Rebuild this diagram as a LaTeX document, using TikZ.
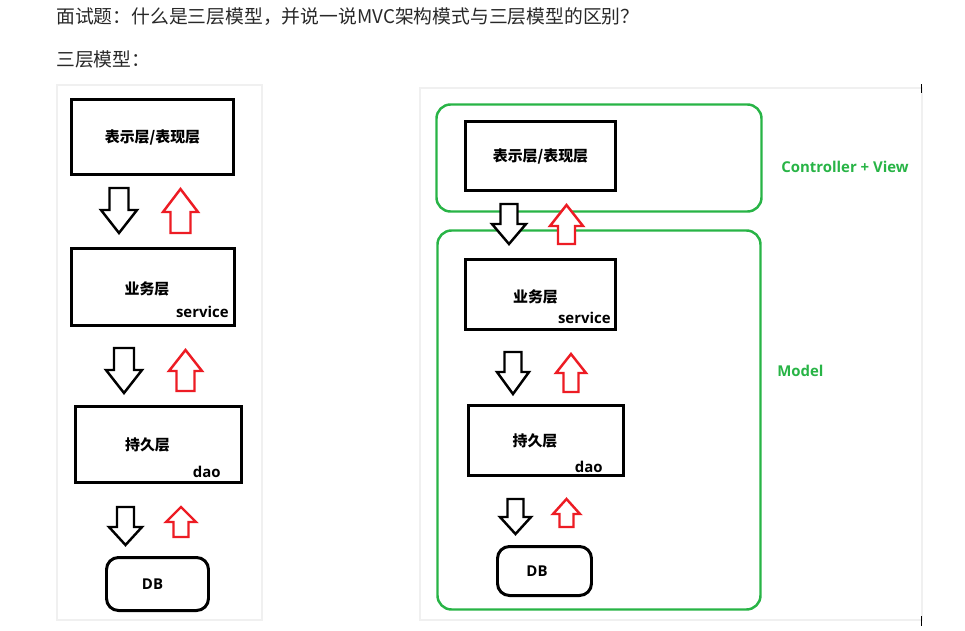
\documentclass[tikz,border=0pt]{standalone}
\usepackage{fontspec}
\usetikzlibrary{positioning, calc}
\newfontfamily\cjk{Noto Sans CJK SC}
\newfontfamily\lat{Open Sans}
\definecolor{mgreen}{RGB}{40,180,70}
\definecolor{mred}{RGB}{237,28,36}
\definecolor{ttext}{RGB}{40,40,40}

% block arrow: style, x, tail y, neck y, tip y, shaft half, head half
\newcommand\blockarr[7]{\draw[#1] ({#2-#6},#3) -- ({#2+#6},#3) -- ({#2+#6},#4) -- ({#2+#7},#4) -- (#2,#5) -- ({#2-#7},#4) -- ({#2-#6},#4) -- cycle;}

\begin{document}
\begin{tikzpicture}[x=0.02cm,y=-0.02cm,line join=miter,
    layer/.style={draw, line width=1.7pt, inner sep=0pt, font=\cjk\bfseries\fontsize{8.5pt}{10pt}\selectfont},
    ltext/.style={inner sep=0pt, font=\cjk\bfseries\fontsize{8.5pt}{10pt}\selectfont},
    dbbox/.style={layer, rounded corners=0.24cm, font=\lat\bfseries\fontsize{8.5pt}{10pt}\selectfont},
    sub/.style={inner sep=0pt, font=\lat\bfseries\fontsize{8.5pt}{10pt}\selectfont},
    group/.style={draw=mgreen, line width=1.4pt, rounded corners=0.28cm},
    glabel/.style={anchor=west, inner sep=0pt, text=mgreen, font=\lat\bfseries\fontsize{8.5pt}{10pt}\selectfont},
    down/.style={draw=black, line width=1.4pt, fill=white},
    up/.style={draw=mred, line width=1.4pt, fill=white},
    panel/.style={draw=black!6, fill=white, line width=0.8pt}]
    \useasboundingbox (0,0) rectangle (965,630);

    % heading
    \node[anchor=west, inner sep=0pt, text=ttext, font=\cjk\fontsize{10.7pt}{12pt}\selectfont] (title) at (56,17) {面试题：什么是三层模型，并说一说MVC架构模式与三层模型的区别？};
    \node[anchor=west, inner sep=0pt, text=ttext, font=\cjk\fontsize{10.7pt}{12pt}\selectfont] (sub) at (56,59) {三层模型：};

    % panels
    \draw[panel] (57,85) rectangle (262,620);
    \draw[panel] (420,88) rectangle (922,620);
    \draw[line width=0.6pt] (921.5,84) -- (921.5,93);
    \draw[line width=0.6pt] (921.5,616) -- (921.5,626);

    %three layers
    \node[layer, minimum width=162*0.02cm, minimum height=75*0.02cm] (lview) at (152.5,137) {表示层/表现层};
    \node[layer, minimum width=163*0.02cm, minimum height=77*0.02cm] (lserv) at (153,287) {};
    \node[ltext] at ($(lserv.center)+(-6,2)$) {业务层};
    \node[sub, anchor=south east] (lservt) at ($(lserv.south east)+(-7,-9)$) {service};
    \node[layer, minimum width=166*0.02cm, minimum height=76*0.02cm] (ldao) at (158.5,444.5) {};
    \node[ltext] at ($(ldao.center)+(-11,0)$) {持久层};
    \node[sub, anchor=south east] (ldaot) at ($(ldao.south east)+(-22,-6)$) {dao};
    \node[dbbox, minimum width=102*0.02cm, minimum height=53*0.02cm] (ldb) at (157.5,584) {\hspace*{-0.2cm}DB};

    %arrows left
    \blockarr{down}{119}{188}{210}{233}{9.5}{18}
    \blockarr{up}{180.5}{233}{212}{189}{10}{17.5}
    \blockarr{down}{124}{348}{370}{393}{10}{18}
    \blockarr{up}{185.5}{391}{371}{350}{9}{16.5}
    \blockarr{down}{125.5}{507}{527}{545}{8.5}{16.5}
    \blockarr{up}{181}{537}{522}{507}{7.5}{15}

    %mvc groups
    \node[group, minimum width=325*0.02cm, minimum height=107*0.02cm] (cv) at (599,158) {};
    \node[group, minimum width=323*0.02cm, minimum height=379*0.02cm] (model) at (599,420) {};
    \node[glabel] (cvt) at (781,167) {Controller + View};
    \node[glabel] (modelt) at (777,371) {Model};

    %layers inside
    \node[layer, minimum width=150*0.02cm, minimum height=69*0.02cm] (rview) at (540.5,156) {表示层/表现层};
    \node[layer, minimum width=150*0.02cm, minimum height=70*0.02cm] (rserv) at (540.5,294.5) {};
    \node[ltext] at ($(rserv.center)+(-5,2)$) {业务层};
    \node[sub, anchor=south east] (rservt) at ($(rserv.south east)+(-6,-7)$) {service};
    \node[layer, minimum width=155*0.02cm, minimum height=70*0.02cm] (rdao) at (546,440.5) {};
    \node[ltext] at ($(rdao.center)+(-11,0)$) {持久层};
    \node[sub, anchor=south east] (rdaot) at ($(rdao.south east)+(-22,-4)$) {dao};
    \node[dbbox, minimum width=94*0.02cm, minimum height=49*0.02cm] (rdb) at (544.5,571) {\hspace*{-0.3cm}DB};

    %arrows right
    \blockarr{down}{509}{204}{224}{244}{8.5}{17}
    \blockarr{up}{566.5}{244}{226}{205}{8.5}{16.5}
    \blockarr{down}{513}{352}{372}{394}{8.5}{16}
    \blockarr{up}{571}{392}{373}{354}{7.5}{15}
    \blockarr{down}{515.5}{499}{517}{534}{8}{15.5}
    \blockarr{up}{566.5}{527}{514}{499}{7}{13.5}
\end{tikzpicture}
\end{document}
